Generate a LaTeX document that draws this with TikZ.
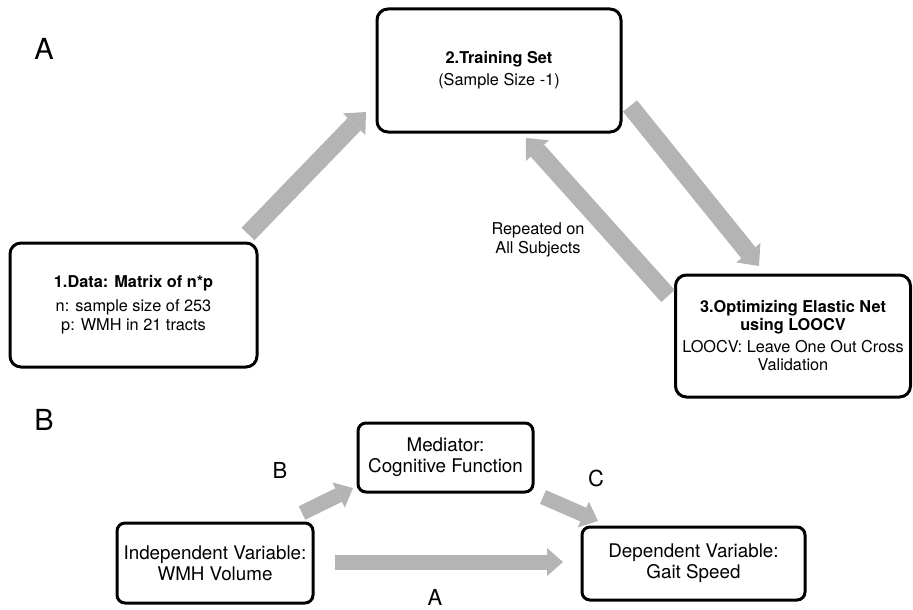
\documentclass[tikz,border=0pt]{standalone}
\usepackage{fontspec}
\setmainfont{TeX Gyre Heros}
\usetikzlibrary{arrows.meta}
\definecolor{arrowgray}{RGB}{180,180,180}
\begin{document}
\begin{tikzpicture}[x=1pt,y=-1pt,
  box/.style={draw=black, line width=3pt, rounded corners=11pt, align=center, inner sep=0pt, fill=white},
  smallbox/.style={box, rounded corners=8pt},
  txtA/.style={font=\fontsize{16.3}{19}\selectfont},
  txtB/.style={font=\fontsize{18.8}{21}\selectfont},
  biglabel/.style={font=\fontsize{29}{29}\selectfont, inner sep=0pt},
  pathlabel/.style={font=\fontsize{22}{22}\selectfont, inner sep=0pt},
  arrA/.style={line width=18pt, draw=arrowgray, -{Triangle[width=31pt,length=17pt,line width=0pt]}},
  arrB/.style={line width=15pt, draw=arrowgray, -{Triangle[width=28pt,length=16pt,line width=0pt]}}
]
\useasboundingbox (0,0) rectangle (913,610);

% Part A
\node[biglabel] (labA) at (44,49) {A};
\node[box, txtA, minimum width=247pt, minimum height=124pt] (d1) at (133.5,305)
  {{\bfseries 1.Data: Matrix of n*p}\\[5pt]n: sample size of 253\\p: WMH in 21 tracts};
\node[box, txtA, minimum width=244pt, minimum height=123pt] (d2) at (499,70.5)
  {{\bfseries 2.Training Set}\\[3pt](Sample Size -1)};
\node[box, txtA, minimum width=235pt, minimum height=122pt, font=\fontsize{16.3}{18}\selectfont] (d3) at (793,336)
  {{\bfseries 3.Optimizing Elastic Net}\\{\bfseries using LOOCV}\\[4pt]LOOCV: Leave One Out Cross\\Validation};
\node[txtA, align=center] (rep) at (538,240) {Repeated on\\All Subjects};

\coordinate (t12) at (248,234);
\coordinate (h12) at (366,112);
\coordinate (t23) at (630,106);
\coordinate (h23) at (759,266);
\coordinate (t32) at (668,296);
\coordinate (h32) at (526,138);
\draw[arrA] (t12) -- (h12);
\draw[arrA] (t23) -- (h23);
\draw[arrA] (t32) -- (h32);

% Part B
\node[biglabel] (labB) at (44,420) {B};
\node[smallbox, txtB, minimum width=175pt, minimum height=69pt] (med) at (445.5,457.5)
  {Mediator:\\Cognitive Function};
\node[smallbox, txtB, minimum width=196pt, minimum height=80pt] (ind) at (215,563)
  {Independent Variable:\\WMH Volume};
\node[smallbox, txtB, minimum width=223pt, minimum height=73pt] (dep) at (693.5,563.5)
  {Dependent Variable:\\Gait Speed};

\coordinate (tB) at (302,513);
\coordinate (hB) at (353,488);
\coordinate (tC) at (543,497);
\coordinate (hC) at (598,521);
\coordinate (tA) at (335,562);
\coordinate (hA) at (563,562);
\draw[arrB] (tB) -- (hB);
\draw[arrB] (tC) -- (hC);
\draw[arrB] (tA) -- (hA);

\node[pathlabel] (pB) at (280,470) {B};
\node[pathlabel] (pC) at (596,478) {C};
\node[pathlabel] (pA) at (435,597) {A};
\end{tikzpicture}
\end{document}
